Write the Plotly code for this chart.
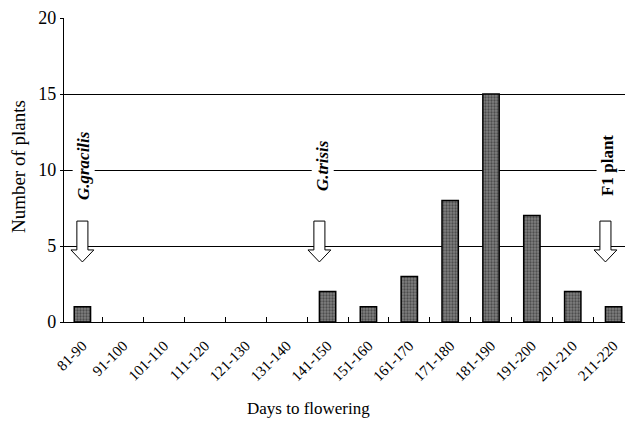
import plotly.graph_objects as go

categories = ["81-90", "91-100", "101-110", "111-120", "121-130", "131-140",
              "141-150", "151-160", "161-170", "171-180", "181-190", "191-200",
              "201-210", "211-220"]
plants = [1, 0, 0, 0, 0, 0, 2, 1, 3, 8, 15, 7, 2, 1]

marker_labels = ["<b><i>G.gracilis</i></b>", "<b><i>G.trisis</i></b>", "<b>F1 plant</b>"]
marker_pos = [0.03, 5.88, 12.85]
arrow_pos = [0.0, 5.8, 12.8]

FONT = "Liberation Serif"

idx = [i for i, v in enumerate(plants) if v > 0]
fig = go.Figure()
fig.add_trace(go.Bar(
    x=idx, y=[plants[i] for i in idx], width=0.4,
    marker=dict(color="#6e6e6e", line=dict(color="black", width=1.5),
                pattern=dict(shape=".", fgcolor="#1a1a1a", bgcolor="#808080", size=3, solidity=0.45)),
    showlegend=False,
))

# hollow down arrows
top, neck, tip = 6.64, 4.74, 3.95
sw, hw = 0.135, 0.28
for xc in arrow_pos:
    path = (f"M {xc-sw},{top} L {xc+sw},{top} L {xc+sw},{neck} L {xc+hw},{neck} "
            f"L {xc},{tip} L {xc-hw},{neck} L {xc-sw},{neck} Z")
    fig.add_shape(type="path", path=path, xref="x", yref="y",
                  line=dict(color="black", width=1), fillcolor="white", layer="above")

for txt, xc in zip(marker_labels, marker_pos):
    fig.add_annotation(x=xc, y=10.3, text=txt, textangle=-90, showarrow=False,
                       font=dict(family=FONT, size=17, color="black"),
                       bgcolor="white", xref="x", yref="y")

# axis titles
fig.add_annotation(x=0.43, y=-0.283, xref="paper", yref="paper", text="Days to flowering",
                   xanchor="center", yanchor="middle",
                   showarrow=False, font=dict(family=FONT, size=17, color="black"))
fig.add_annotation(x=-0.079, y=0.51, xref="paper", yref="paper", text="Number of plants",
                   xanchor="center", yanchor="middle",
                   textangle=-90, showarrow=False, font=dict(family=FONT, size=19, color="black"))

bounds = [i + 0.5 for i in range(len(categories) - 1)]

fig.update_layout(
    width=633, height=421,
    margin=dict(l=56, r=9, t=10, b=107),
    paper_bgcolor="white", plot_bgcolor="white",
    font=dict(family=FONT, color="black"),
    xaxis=dict(
        range=[-0.45, 13.45], tickmode="array", tickvals=list(range(len(categories))),
        ticktext=categories, tickangle=-45, ticks="", showgrid=False,
        showline=True, linecolor="black", linewidth=1.2, automargin=False,
        tickfont=dict(family=FONT, size=15), ticklabelstandoff=8,
        minor=dict(tickmode="array", tickvals=bounds, ticks="inside", ticklen=5,
                   tickcolor="black", showgrid=False),
        zeroline=False,
    ),
    yaxis=dict(
        range=[0, 20], tickvals=[0, 5, 10, 15, 20], showgrid=True, gridcolor="black",
        gridwidth=1, showline=True, linecolor="black", linewidth=1.2, automargin=False,
        ticks="outside", ticklen=3, tickcolor="black",
        tickfont=dict(family=FONT, size=18),
        zeroline=False,
    ),
)

fig.write_html("out.html")
